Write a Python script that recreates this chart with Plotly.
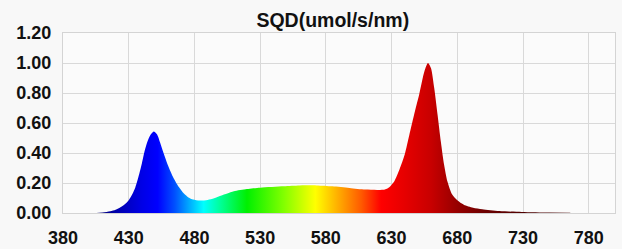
import plotly.graph_objects as go

# Spectrum data
wavelength = [403, 410, 416, 420, 424, 427, 430, 433, 435, 438, 440, 442, 444, 446.5, 449,
              451.5, 454, 456.5, 460, 464, 468, 472, 475.5, 479, 484, 490, 495, 500, 505,
              510, 520, 530, 548, 560, 573, 585, 598, 610, 620, 625, 628, 632, 636, 640, 643.5,
              647, 651, 655, 657.7, 660, 662.5, 665, 667.5, 670, 672.5, 676, 680, 685, 692,
              699, 712, 729, 750, 766]
sqd = [0.0, 0.004, 0.012, 0.022, 0.04, 0.058, 0.085, 0.13, 0.17, 0.26, 0.33, 0.41, 0.47, 0.52, 0.544,
       0.525, 0.467, 0.40, 0.315, 0.235, 0.175, 0.13, 0.104, 0.09, 0.083, 0.087, 0.098, 0.115, 0.13,
       0.145, 0.16, 0.169, 0.178, 0.183, 0.184, 0.178, 0.167, 0.156, 0.154, 0.157, 0.17, 0.21, 0.29, 0.39, 0.52,
       0.65, 0.79, 0.945, 1.0, 0.965, 0.83, 0.655, 0.475, 0.32, 0.21, 0.125, 0.085, 0.055, 0.035,
       0.025, 0.013, 0.007, 0.003, 0.002]

x_ticks = [380, 430, 480, 530, 580, 630, 680, 730, 780]
title_text = "SQD(umol/s/nm)"

# Colour stops for the wavelength gradient (nm, colour)
color_stops = [
    (380, "rgb(0,0,90)"), (403, "rgb(0,0,100)"), (420, "rgb(0,0,170)"), (440, "rgb(0,0,230)"),
    (452, "rgb(0,0,255)"), (465, "rgb(0,80,255)"), (476, "rgb(0,170,255)"), (487, "rgb(0,255,255)"),
    (500, "rgb(0,255,150)"), (520, "rgb(0,240,0)"), (548, "rgb(130,255,0)"), (572, "rgb(255,255,0)"),
    (590, "rgb(255,170,0)"), (607, "rgb(255,90,0)"), (622, "rgb(255,0,0)"), (640, "rgb(230,0,0)"),
    (660, "rgb(200,0,0)"), (680, "rgb(150,0,0)"), (700, "rgb(110,0,0)"), (730, "rgb(80,0,0)"),
    (780, "rgb(60,0,0)"),
]
x0, x1 = 380, 780
colorscale = [[(w - x0) / (x1 - x0), c] for w, c in color_stops]

PAPER = "#f8f8f8"

fig = go.Figure()
fig.add_trace(go.Scatter(
    x=wavelength, y=sqd, mode="lines", line=dict(width=0, shape="spline", smoothing=0.7),
    fill="tozeroy",
    fillgradient=dict(type="horizontal", start=x0, stop=x1, colorscale=colorscale),
    hoverinfo="skip", showlegend=False,
))

font = dict(family="Liberation Sans, Arial, sans-serif", size=18, color="#111111", weight="bold")

fig.update_layout(
    width=622, height=249,
    margin=dict(l=63, r=7, t=33, b=36),
    paper_bgcolor=PAPER, plot_bgcolor="#fbfbfb",
    font=font,
    title=dict(text=title_text, x=0.535, xanchor="center", y=1 - 20 / 249, yanchor="middle",
               font=dict(family="Liberation Sans, Arial, sans-serif", size=19.5, color="#111111", weight="bold")),
    xaxis=dict(range=[380, 800], tickvals=x_ticks, ticktext=[str(v) for v in x_ticks],
               automargin=False,
               showgrid=True, gridcolor="#d9d9d9", gridwidth=1, zeroline=False,
               showline=True, linecolor="#d4d4d4", linewidth=1, mirror=True,
               ticks="outside", ticklen=8, tickcolor="rgba(0,0,0,0)"),
    yaxis=dict(range=[0, 1.2], dtick=0.2, tick0=0, tickformat=".2f",
               automargin=False,
               showgrid=True, gridcolor="#d9d9d9", gridwidth=1, zeroline=False,
               showline=True, linecolor="#d4d4d4", linewidth=1, mirror=True,
               ticks="outside", ticklen=7, tickcolor="rgba(0,0,0,0)"),
)

fig.write_html(
    "out.html",
    config={"displayModeBar": False},
    post_script="document.body.style.margin='0';document.body.style.overflow='hidden';"
                "document.body.style.background='" + PAPER + "';",
)
